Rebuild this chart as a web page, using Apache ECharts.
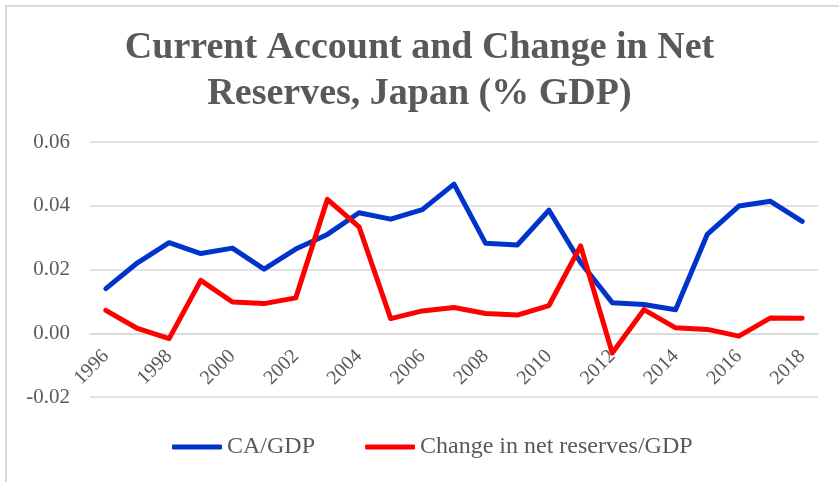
<!DOCTYPE html>
<html>
<head>
<meta charset="utf-8">
<script src="https://cdn.jsdelivr.net/npm/echarts@6/dist/echarts.min.js"></script>
<style>
html,body{margin:0;padding:0;background:#fff;}
#chart{width:839px;height:482px;}
</style>
</head>
<body>
<div id="chart"></div>
<script>
var years = ['1996','1997','1998','1999','2000','2001','2002','2003','2004','2005','2006','2007','2008','2009','2010','2011','2012','2013','2014','2015','2016','2017','2018'];
var caGdp = [0.0140,0.0221,0.0284,0.0250,0.0267,0.0201,0.0264,0.0310,0.0378,0.0358,0.0388,0.0468,0.0282,0.0277,0.0386,0.0222,0.0096,0.0090,0.0074,0.0310,0.0399,0.0414,0.0351];
var reservesGdp = [0.0072,0.0015,-0.0017,0.0166,0.0098,0.0093,0.0111,0.0420,0.0334,0.0046,0.0070,0.0081,0.0062,0.0057,0.0087,0.0274,-0.0062,0.0074,0.0017,0.0012,-0.0009,0.0048,0.0047];
var seriesNames = ['CA/GDP','Change in net reserves/GDP'];
var titleText = 'Current Account and Change in Net\nReserves, Japan (% GDP)';
var yMin = -0.02, yMax = 0.06, yStep = 0.02;

var chart = echarts.init(document.getElementById('chart'), null, {renderer:'canvas'});
var serif = '"Liberation Serif", "DejaVu Serif", serif';
var textColor = '#595959';
var gridColor = '#d9d9d9';
chart.setOption({
  animation: false,
  backgroundColor: '#ffffff',
  title: {
    text: titleText,
    left: 'center',
    top: 20,
    textStyle: {fontFamily: serif, fontWeight: 'bold', fontSize: 38, color: textColor, lineHeight: 46}
  },
  graphic: [
    {type:'line', shape:{x1:6, y1:5, x2:6, y2:482}, style:{stroke:gridColor, lineWidth:2}},
    {type:'line', shape:{x1:5, y1:6, x2:839, y2:6}, style:{stroke:gridColor, lineWidth:2}}
  ],
  legend: {
    bottom: 18,
    left: 167,
    icon: 'roundRect',
    itemWidth: 50,
    itemHeight: 5,
    itemGap: 50,
    textStyle: {fontFamily: serif, fontSize: 24, color: textColor},
    data: seriesNames
  },
  grid: {left: 90, right: 21, top: 142, bottom: 85},
  xAxis: {
    type: 'category',
    data: years,
    boundaryGap: true,
    z: 1,
    axisLine: {show: true, onZero: false, lineStyle: {color: gridColor, width: 1.5}},
    axisTick: {show: false},
    axisLabel: {interval: 1, rotate: 45, margin: 20, fontFamily: serif, fontSize: 20, color: textColor}
  },
  yAxis: {
    type: 'value',
    min: yMin,
    max: yMax,
    interval: yStep,
    axisLine: {show: false},
    axisTick: {show: false},
    splitLine: {lineStyle: {color: gridColor, width: 1.5}},
    axisLabel: {margin: 20, fontFamily: serif, fontSize: 21, color: textColor, formatter: function(v){ return v.toFixed(2); }}
  },
  series: [
    {name: seriesNames[0], type: 'line', z: 3, data: caGdp, symbol: 'none', lineStyle: {color: '#0033CC', width: 5, cap: 'round', join: 'round'}, itemStyle: {color: '#0033CC'}},
    {name: seriesNames[1], type: 'line', z: 4, data: reservesGdp, symbol: 'none', lineStyle: {color: '#FF0000', width: 5, cap: 'round', join: 'round'}, itemStyle: {color: '#FF0000'}}
  ]
});
// place the category axis (line + labels) on the zero value line, as in the reference
var pxZero = chart.convertToPixel({yAxisIndex: 0}, 0);
var pxMin = chart.convertToPixel({yAxisIndex: 0}, yMin);
chart.setOption({xAxis: {offset: -(pxMin - pxZero)}});
</script>
</body>
</html>
